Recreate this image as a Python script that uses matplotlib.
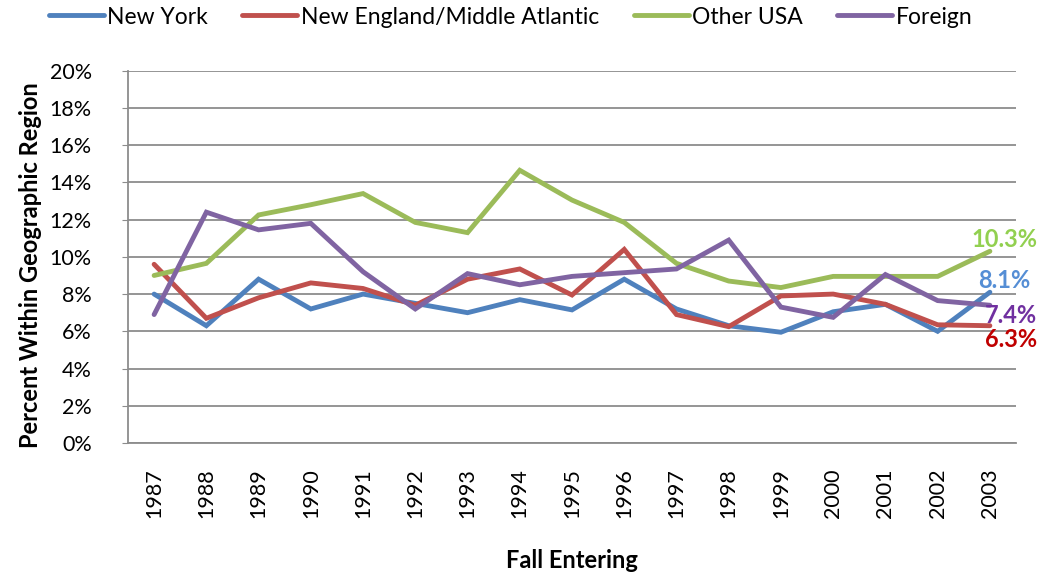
import matplotlib
matplotlib.use("Agg")
import matplotlib.pyplot as plt
import numpy as np

# Data (percent within geographic region)
years = [str(y) for y in range(1987, 2004)]
new_york = [8.0, 6.3, 8.8, 7.2, 8.0, 7.5, 7.0, 7.7, 7.15, 8.8, 7.2, 6.3, 5.95, 7.05, 7.45, 6.0, 8.1]
new_england = [9.6, 6.7, 7.8, 8.6, 8.3, 7.4, 8.8, 9.35, 7.95, 10.4, 6.9, 6.25, 7.9, 8.0, 7.45, 6.35, 6.3]
other_usa = [9.0, 9.65, 12.25, 12.8, 13.4, 11.85, 11.3, 14.65, 13.05, 11.85, 9.65, 8.7, 8.35, 8.95, 8.95, 8.95, 10.3]
foreign = [6.9, 12.4, 11.45, 11.8, 9.2, 7.2, 9.1, 8.5, 8.95, 9.15, 9.35, 10.9, 7.3, 6.75, 9.05, 7.65, 7.4]

series_names = ["New York", "New England/Middle Atlantic", "Other USA", "Foreign"]
line_colors = ["#4F81BD", "#C0504D", "#9BBB59", "#8064A2"]
end_label_colors = ["#558ED5", "#C00000", "#92D050", "#7030A0"]
end_offsets = [(14, 12), (21, -14), (15, 12), (21, -10)]  # pixels

plt.rcParams['font.family'] = ['Lato', 'DejaVu Sans']

fig = plt.figure(figsize=(10.42, 5.75), dpi=100)
ax = fig.add_axes([128 / 1042, 1 - 443 / 575, (1016 - 128) / 1042, (443 - 70.7) / 575])

x = np.arange(len(years))
all_series = [new_york, new_england, other_usa, foreign]
for vals, name, col in zip(all_series, series_names, line_colors):
    ax.plot(x, vals, color=col, lw=3.5, label=name, solid_capstyle='round', solid_joinstyle='miter')

# End-of-line value labels
for vals, col, off in zip(all_series, end_label_colors, end_offsets):
    ax.annotate(f"{vals[-1]:.1f}%", xy=(x[-1], vals[-1]), xytext=off,
                textcoords='offset pixels', ha='center', va='center',
                color=col, fontsize=17, fontweight='bold')

ax.set_xlim(-0.5, len(years) - 0.5)
ax.set_ylim(0, 20)
ax.set_yticks(np.arange(0, 21, 2))
ax.set_yticklabels([f"{v}%" for v in range(0, 21, 2)])
ax.set_xticks(x)
ax.set_xticklabels(years, rotation=90)

ax.grid(axis='y', color='#8C8C8C', lw=1.3)
ax.set_axisbelow(True)
for s in ['top', 'right']:
    ax.spines[s].set_visible(False)
for s in ['left', 'bottom']:
    ax.spines[s].set_color('#8C8C8C')
    ax.spines[s].set_linewidth(1.3)

ax.tick_params(axis='y', length=4, color='#8C8C8C', pad=22, labelsize=15.5)
ax.tick_params(axis='x', length=0, pad=18, labelsize=15.5)

fig.text(31 / 1042, 1 - 265 / 575, "Percent Within Geographic Region", rotation=90,
         ha='center', va='center', fontsize=17, fontweight='bold')
fig.text(572 / 1042, 1 - 560 / 575, "Fall Entering", ha='center', va='center',
         fontsize=17, fontweight='bold')

fig.legend(loc='center', bbox_to_anchor=(0.49, 1 - 17 / 575), ncol=4, frameon=False,
           fontsize=16.5, handlelength=2.4, handletextpad=0.15, columnspacing=1.5,
           borderaxespad=0)

fig.savefig("out.png", dpi=100)
